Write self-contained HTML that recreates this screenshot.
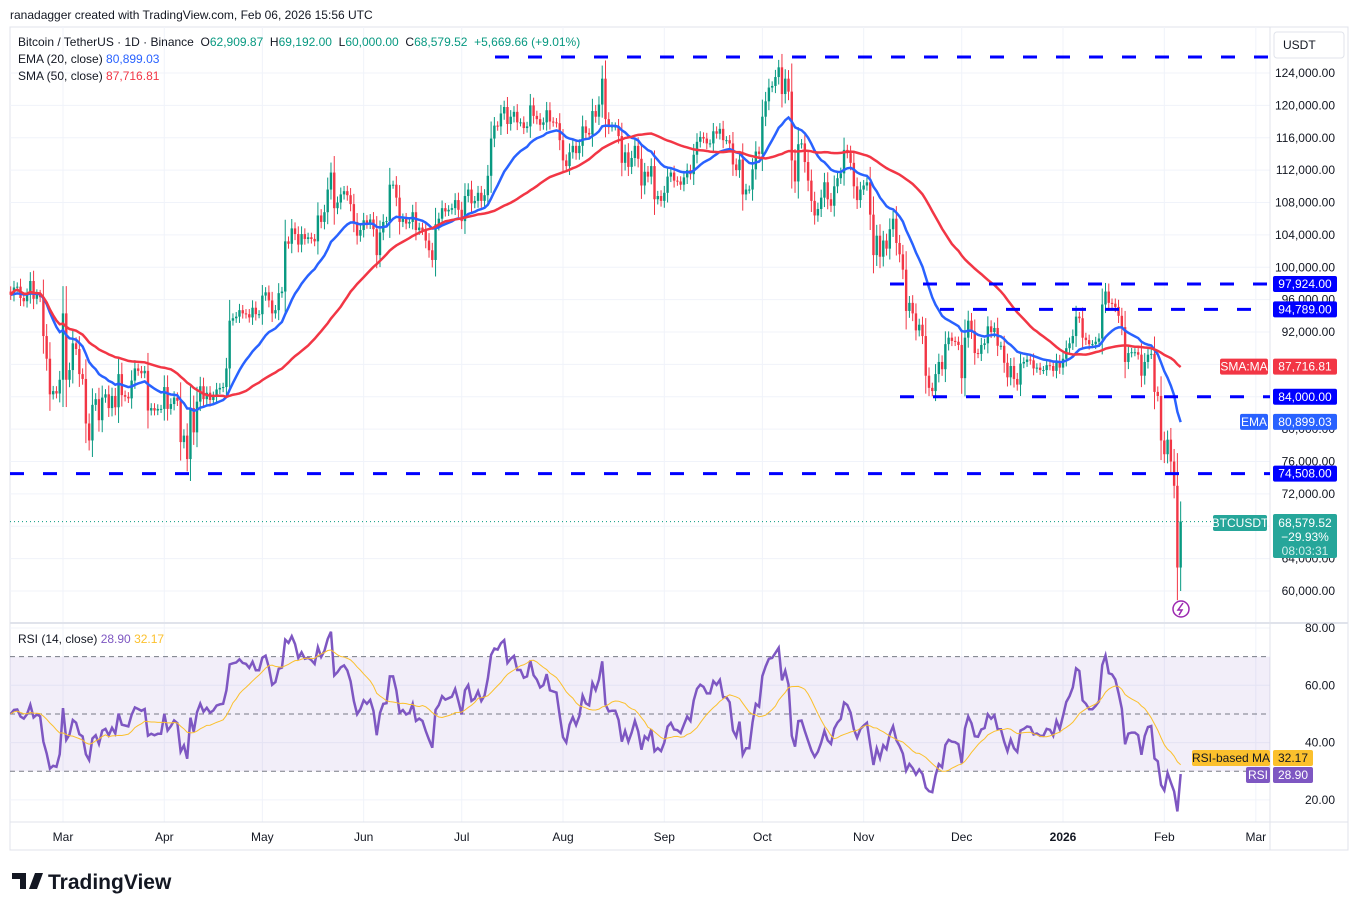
<!DOCTYPE html>
<html><head><meta charset="utf-8">
<style>
body{margin:0;background:#fff;font-family:"Liberation Sans",sans-serif;}
svg text{font-family:"Liberation Sans",sans-serif;}
</style></head>
<body>
<svg id="c" width="1358" height="911" xmlns="http://www.w3.org/2000/svg"></svg>
<script>
const closes=[96.6,97.5,97.6,96.2,95.8,96.6,98.3,96.1,96.6,96.3,91.5,88.7,84.3,84.7,84.4,86.1,
94.3,86.1,87.3,90.6,89.9,86.8,86.2,80.7,78.6,83.0,83.7,81.1,83.9,84.3,82.6,84.1,82.7,86.8,84.2,84.0,83.8,86.0,87.5,87.2,86.9,87.2,82.3,82.6,82.3,82.5,82.5,
85.2,82.5,83.1,83.9,83.5,78.4,79.2,76.3,82.6,79.6,83.4,85.3,83.7,84.5,83.6,84.0,84.9,85.1,85.2,87.5,93.4,93.7,93.9,94.7,94.3,94.2,93.8,95.0,94.2,94.2,
96.5,96.9,95.9,94.3,94.7,96.8,97.0,103.2,102.9,104.8,104.1,102.8,104.1,103.5,103.7,103.5,103.2,106.4,105.6,106.8,109.6,111.7,107.3,108.0,109.0,109.4,108.9,107.8,105.6,103.9,104.6,
105.8,105.4,105.9,104.7,101.5,104.3,105.6,105.7,110.2,110.2,108.6,105.6,106.0,105.4,105.6,106.8,104.6,104.9,104.6,103.3,102.1,100.9,105.3,106.0,107.3,106.9,107.1,107.3,108.3,107.1,
105.7,108.8,109.6,107.9,108.2,109.2,108.2,108.9,111.3,115.9,117.5,117.4,119.0,119.8,117.7,118.6,119.2,117.9,117.9,117.2,117.4,120.0,118.7,118.3,117.6,117.9,119.4,118.0,117.9,117.8,115.7,
113.2,112.5,114.2,115.0,114.1,115.0,117.4,116.6,116.4,119.3,118.6,120.1,123.3,118.3,117.3,117.4,117.4,116.2,112.9,114.2,112.4,113.5,115.0,113.4,110.1,111.8,111.2,112.5,108.4,108.8,108.2,
109.2,111.2,111.7,110.7,110.6,110.2,111.1,112.0,111.5,113.9,115.5,116.1,115.9,115.3,115.3,116.8,116.5,117.1,115.7,115.7,115.3,112.7,112.0,113.3,109.0,109.6,109.6,112.1,114.3,114.0,
118.6,120.5,122.2,122.4,123.5,124.7,121.4,123.3,121.7,113.2,110.6,115.2,115.3,113.0,110.7,108.2,106.4,107.2,108.6,110.5,108.4,107.6,110.0,111.0,111.6,114.5,114.1,112.9,110.0,108.3,109.6,
110.1,110.5,106.5,101.5,103.9,101.3,103.3,102.3,104.7,106.0,103.0,101.6,99.7,94.6,95.6,94.3,92.2,92.9,91.5,86.6,85.1,84.7,86.8,88.3,87.4,90.5,91.3,90.9,90.8,90.4,
86.3,91.3,93.4,92.1,89.4,89.3,90.4,90.6,92.7,92.0,92.5,90.3,90.3,88.2,86.4,87.8,86.2,85.5,88.1,88.3,88.6,88.5,87.5,87.6,87.3,87.3,87.9,87.8,87.2,88.4,87.6,
88.7,90.0,90.6,91.5,93.9,93.7,91.3,91.0,90.5,90.5,90.8,91.2,95.4,97.0,95.6,95.5,95.1,94.0,92.6,88.3,89.4,89.5,89.5,89.2,86.6,88.3,89.2,89.3,84.6,84.1,78.6,
76.9,78.7,76.0,73.0,62.9,68.58];
const firstOpen=97.0;
const priceTicks=[124,120,116,112,108,104,100,96,92,88,84,80,76,72,68,64,60];
const rsiTicks=[80,60,40,20];
const monthLabels=["Mar","Apr","May","Jun","Jul","Aug","Sep","Oct","Nov","Dec","2026","Feb","Mar"];
const monthDayIndex=[16,47,77,108,138,169,200,230,261,291,322,353,381];
const levels=[97.924,94.789,84.0,74.508];
const levelStart=[890,940,900,10];

const NS="http://www.w3.org/2000/svg",svg=document.getElementById('c');
function el(t,a,txt){const e=document.createElementNS(NS,t);for(const k in a)e.setAttribute(k,a[k]);if(txt!==undefined)e.textContent=txt;svg.appendChild(e);return e;}
const X=i=>63+(i-16)*3.268;
const Y=p=>73+(124-p)*8.094;
const RY=v=>628+(80-v)*2.865;
const R=1270;
let f=el('rect',{x:10,y:27,width:1338,height:823,fill:'none',stroke:'#e0e3eb'});

priceTicks.forEach(p=>el('line',{x1:10,x2:R,y1:Y(p),y2:Y(p),stroke:'#f0f3fa'}));
rsiTicks.forEach(v=>el('line',{x1:10,x2:R,y1:RY(v),y2:RY(v),stroke:'#f0f3fa'}));
monthDayIndex.forEach(i=>{el('line',{x1:X(i),x2:X(i),y1:27,y2:822,stroke:'#f0f3fa'});});
el('line',{x1:R,x2:R,y1:27,y2:850,stroke:'#e0e3eb'});
el('line',{x1:10,x2:1348,y1:623,y2:623,stroke:'#e0e3eb',"stroke-width":2});
el('line',{x1:10,x2:1348,y1:822,y2:822,stroke:'#e0e3eb'});
priceTicks.forEach(p=>{let t=el('text',{x:1335,y:Y(p)+4,"font-size":12,fill:'#131722',"text-anchor":'end'},(p*1000).toLocaleString('en-US')+'.00');
});
rsiTicks.forEach(v=>{let t=el('text',{x:1335,y:RY(v)+4,"font-size":12,fill:'#131722',"text-anchor":'end'},v+'.00');
});
monthLabels.forEach((m,k)=>{let t=el('text',{x:X(monthDayIndex[k]),y:841,"font-size":12,fill:'#131722',"text-anchor":'middle',"font-weight":m=="2026"?'bold':'normal'},m);
});
let cb=el('rect',{x:1274,y:32,width:70,height:26,rx:3,fill:'#fff',stroke:'#e0e3eb'});

el('text',{x:1283,y:49,"font-size":12,fill:'#131722'},'USDT');
el('rect',{x:10,y:RY(70),width:R-10,height:RY(30)-RY(70),fill:'rgba(126,87,194,0.1)'});
[70,50,30].forEach(v=>el('line',{x1:10,x2:R,y1:RY(v),y2:RY(v),stroke:'#787b86',"stroke-dasharray":'5,4'}));
for(let i=0;i<closes.length;i++){
 const o=i?closes[i-1]:firstOpen,c=closes[i],up=c>=o,col=up?'#089981':'#f23645';
 const w=Math.abs(c-o)*0.35+0.5;
 const hi=Math.max(o,c)+w,lo=Math.min(o,c)-w, x=X(i);
 let g=el('line',{x1:x,x2:x,y1:Y(hi),y2:Y(i==closes.length-1?60:lo),stroke:col,"stroke-width":1});
 
 let b=el('rect',{x:x-1.2,y:Y(Math.max(o,c)),width:2.4,height:Math.max(1,Math.abs(Y(o)-Y(c))),fill:col});
 
}
const ema=[],sma=[];let e=closes[0];
closes.forEach((c,i)=>{e=i?c*2/21+e*19/21:c;ema.push(e);
 const s=closes.slice(Math.max(0,i-49),i+1);sma.push(s.reduce((a,b)=>a+b,0)/s.length);});
let pe=el('polyline',{points:ema.map((v,i)=>X(i)+','+Y(v)).join(' '),fill:'none',stroke:'#2962ff',"stroke-width":2.5});

let ps=el('polyline',{points:sma.map((v,i)=>X(i)+','+Y(v)).join(' '),fill:'none',stroke:'#f23645',"stroke-width":2.5});

levels.forEach((p,k)=>{let l=el('line',{x1:levelStart[k],x2:R,y1:Y(p),y2:Y(p),stroke:'#0000ff',"stroke-width":3,"stroke-dasharray":'14,19'});
 });
let tl=el('line',{x1:495,x2:R,y1:57,y2:57,stroke:'#0000ff',"stroke-width":3,"stroke-dasharray":'14,19'});

el('line',{x1:10,x2:R,y1:Y(68.58),y2:Y(68.58),stroke:'#089981',"stroke-dasharray":'1,3'});
// RSI (Wilder), seeded with equal averages
const rsi=[{i:0,v:50}];let ag=1.2,al=1.2;
for(let i=1;i<closes.length;i++){const d=closes[i]-closes[i-1],g=Math.max(d,0),l=Math.max(-d,0);
 ag=(ag*13+g)/14;al=(al*13+l)/14;
 rsi.push({i,v:al==0?100:100-100/(1+ag/al)});}
const rma=rsi.map((r,k)=>{const s=rsi.slice(Math.max(0,k-13),k+1);return {i:r.i,v:s.reduce((a,b)=>a+b.v,0)/s.length};});
let rl=el('polyline',{points:rsi.map(r=>X(r.i)+','+RY(r.v)).join(' '),fill:'none',stroke:'#7e57c2',"stroke-width":2.5});

let rm=el('polyline',{points:rma.map(r=>X(r.i)+','+RY(r.v)).join(' '),fill:'none',stroke:'#fbc02d',"stroke-width":1});

function tag(y,txt,bg,x,w,fg){let r=el('rect',{x:x,y:y-8,width:w,height:16,rx:2,fill:bg});
 
 el('text',{x:x+w/2,y:y+4,"font-size":12,fill:fg||'#fff',"text-anchor":'middle'},txt);}
tag(Y(97.924),'97,924.00','#0000ff',1273,64);
tag(Y(94.789),'94,789.00','#0000ff',1273,64);
tag(Y(84),'84,000.00','#0000ff',1273,64);
tag(Y(74.508),'74,508.00','#0000ff',1273,64);
tag(Y(87.717),'87,716.81','#f23645',1273,64);tag(Y(87.717),'SMA:MA','#f23645',1220,48);
tag(Y(80.899),'80,899.03','#2962ff',1273,64);tag(Y(80.899),'EMA','#2962ff',1240,28);
let bt=el('rect',{x:1273,y:514,width:64,height:44,rx:2,fill:'#26a69a'});

el('text',{x:1305,y:527,"font-size":12,fill:'#fff',"text-anchor":'middle'},'68,579.52');
el('text',{x:1305,y:541,"font-size":12,fill:'#fff',"text-anchor":'middle'},'−29.93%');
el('text',{x:1305,y:555,"font-size":12,fill:'#cdeeea',"text-anchor":'middle'},'08:03:31');
tag(523,'BTCUSDT','#26a69a',1213,54);
tag(758,'32.17','#fbc02d',1273,40,'#131722');tag(758,'RSI-based MA','#fbc02d',1192,78,'#131722');
tag(775,'28.90','#7e57c2',1273,40);tag(775,'RSI','#7e57c2',1246,24);
let li=el('circle',{cx:1181,cy:609,r:8,fill:'#fff',stroke:'#9c27b0',"stroke-width":1.5});

el('path',{d:'M1183,603 L1178,610 L1182,610 L1179,615',fill:'none',stroke:'#9c27b0',"stroke-width":1.5});
el('text',{x:10,y:19,"font-size":12,fill:'#131722'},'ranadagger created with TradingView.com, Feb 06, 2026 15:56 UTC');
let h=el('text',{x:18,y:46,"font-size":12,fill:'#131722'});
h.innerHTML='Bitcoin / TetherUS · 1D · Binance  O<tspan fill="#089981">62,909.87</tspan>  H<tspan fill="#089981">69,192.00</tspan>  L<tspan fill="#089981">60,000.00</tspan>  C<tspan fill="#089981">68,579.52</tspan>  <tspan fill="#089981">+5,669.66 (+9.01%)</tspan>';

h.style.whiteSpace='pre';
let e1=el('text',{x:18,y:63,"font-size":12,fill:'#131722'});e1.innerHTML='EMA (20, close) <tspan fill="#2962ff">80,899.03</tspan>';

let s1=el('text',{x:18,y:80,"font-size":12,fill:'#131722'});s1.innerHTML='SMA (50, close) <tspan fill="#f23645">87,716.81</tspan>';

let r1=el('text',{x:18,y:643,"font-size":12,fill:'#131722'});r1.innerHTML='RSI (14, close) <tspan fill="#7e57c2">28.90</tspan> <tspan fill="#fbc02d">32.17</tspan>';

el('path',{d:'M12,873 h14 v16 h-6 v-10 h-8z M29,889 l6,-16 h8 l-6,16z',fill:'#131722'});
let lg=el('text',{x:48,y:889,"font-size":21,"font-weight":'bold',fill:'#131722'},'TradingView');

</script>
</body></html>
